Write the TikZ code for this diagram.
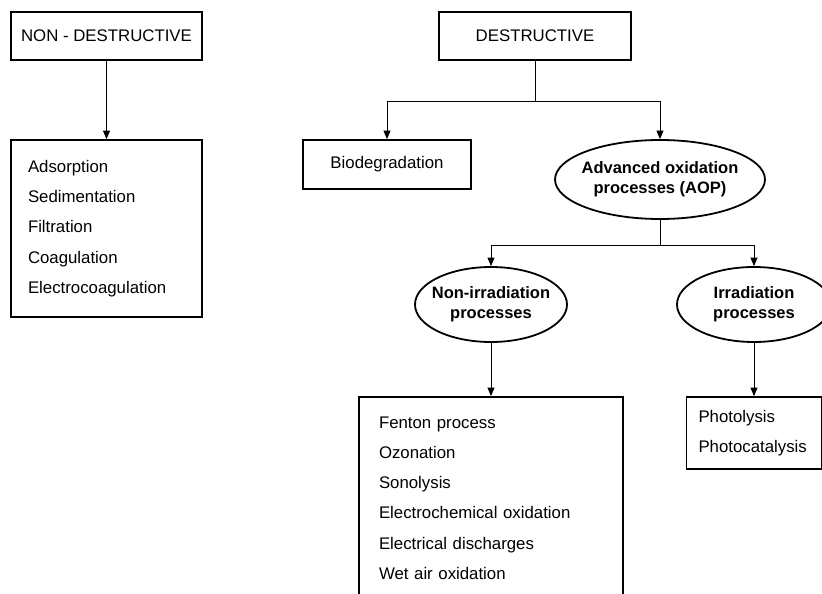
\documentclass[tikz,border=0pt]{standalone}
\usepackage{fontspec}
\setmainfont{Liberation Sans}
\usetikzlibrary{shapes.geometric, arrows.meta}

% two-line text of an oval, kept from widening the oval
\newcommand{\ovaltext}[2]{\makebox[0pt]{\begin{tabular}{@{}c@{}}#1\\#2\end{tabular}}}

\begin{document}
\begin{tikzpicture}[x=1pt, y=-1pt, >={Triangle[length=8.5pt, width=7pt]},
    box/.style={draw, rectangle, line width=1.8pt, inner sep=0pt,
        font=\fontsize{16.8}{20}\selectfont},
    listbox/.style={draw, rectangle, line width=1.8pt, align=left, inner ysep=0pt,
        font=\fontsize{16.8}{30.2}\selectfont},
    oval/.style={draw, ellipse, line width=1.8pt, inner sep=0pt,
        font=\bfseries\fontsize{16.5}{20}\selectfont},
    trunk/.style={line width=0.9pt},
    link/.style={->, line width=0.9pt}]

    \clip (0,0) rectangle (822,594);

    % Non-destructive side
    \node[box, minimum width=191pt, minimum height=48pt] (nondes) at (106.5,36) {NON - DESTRUCTIVE};
    \node[listbox, text width=157pt, inner xsep=17pt, minimum height=177pt] (nondeslist) at (106.5,228.5)
        {Adsorption\\Sedimentation\\Filtration\\Coagulation\\Electrocoagulation};

    % Destructive side
    \node[box, minimum width=192pt, minimum height=48pt] (des) at (535,36) {DESTRUCTIVE};
    \node[box, minimum width=168pt, minimum height=49pt] (bio) at (387,164.5) {Biodegradation};
    \node[oval, minimum width=210pt, minimum height=79pt] (aop) at (660,179.5)
        {\ovaltext{Advanced oxidation}{processes (AOP)}};

    % AOP branches
    \node[oval, minimum width=152pt, minimum height=75pt] (nonirr) at (491,304.5)
        {\ovaltext{Non-irradiation}{processes}};
    \node[oval, minimum width=154pt, minimum height=75pt] (irr) at (754,304.5)
        {\ovaltext{Irradiation}{processes}};
    \node[listbox, text width=224pt, inner xsep=20pt, minimum height=202pt] (nonirrlist) at (491,498)
        {Fenton process\\Ozonation\\Sonolysis\\Electrochemical oxidation\\Electrical discharges\\Wet air oxidation};
    \node[listbox, text width=111pt, inner xsep=12pt, minimum height=72pt] (irrlist) at (754,433)
        {Photolysis\\Photocatalysis};

    % Forks
    \coordinate (desfork) at (535,101);
    \coordinate (aopfork) at (660,245);

    % Connectors
    \draw[link] (nondes) -- (nondeslist);
    \draw[trunk] (des) -- (desfork);
    \draw[link] (desfork) -| (bio);
    \draw[link] (desfork) -| (aop);
    \draw[trunk] (aop) -- (aopfork);
    \draw[link] (aopfork) -| (nonirr);
    \draw[link] (aopfork) -| (irr);
    \draw[link] (nonirr) -- (nonirrlist);
    \draw[link] (irr) -- (irrlist);

\end{tikzpicture}
\end{document}
